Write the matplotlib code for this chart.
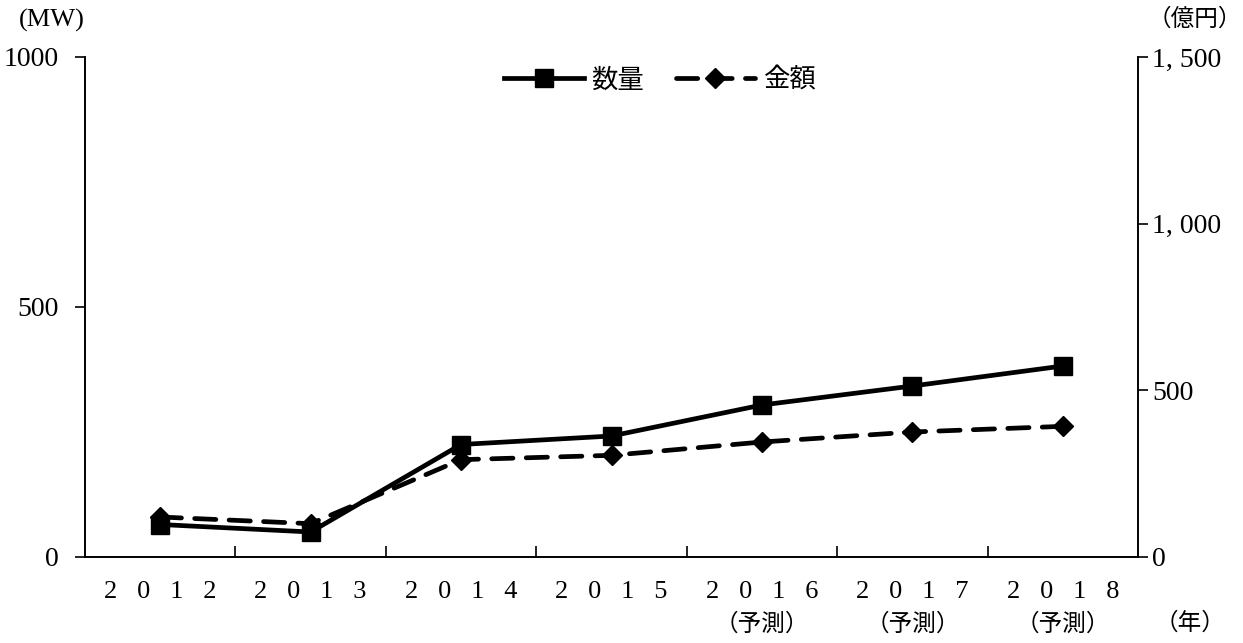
import numpy as np
import matplotlib.pyplot as plt
from matplotlib.ticker import FixedLocator

plt.rcParams['font.family'] = ['Liberation Serif', 'Noto Sans CJK JP']

# データ
years = ['2012', '2013', '2014', '2015', '2016', '2017', '2018']
forecast = [False, False, False, False, True, True, True]
quantity_mw = [65, 50, 225, 242, 304, 342, 382]       # 数量 (MW)
amount_oku = [120, 100, 292, 305, 345, 375, 392]      # 金額 (億円)

x = np.arange(len(years))

fig = plt.figure(figsize=(12.43, 6.43), dpi=100)
ax = fig.add_axes([85 / 1243, 1 - 557 / 643, (1138 - 85) / 1243, 500 / 643])
ax2 = ax.twinx()

l1, = ax.plot(x, quantity_mw, color='black', lw=3.4, marker='s', ms=13,
              label='数量', solid_joinstyle='miter')
l2, = ax2.plot(x, amount_oku, color='black', lw=3.4, ls=(0, (4.5, 2.8)), marker='D',
               ms=10, label='金額', dash_capstyle='round')

ax.set_xlim(-0.5, len(years) - 0.5)
ax.set_ylim(0, 1000)
ax2.set_ylim(0, 1500)

ax.set_yticks([0, 500, 1000])
ax.set_yticklabels(['0', '500', '1000'])
ax2.set_yticks([0, 500, 1000, 1500])
ax2.set_yticklabels(['0', '500', '1, 000', '1, 500'])

ax.tick_params(axis='y', direction='out', length=7, width=1.2, labelsize=20, pad=12)
ax2.tick_params(axis='y', direction='out', length=7, width=1.2, labelsize=20, pad=3)

# カテゴリ境界の目盛り
ax.set_xticks([])
ax.xaxis.set_minor_locator(FixedLocator(x[:-1] + 0.5))
ax.tick_params(axis='x', which='minor', direction='in', length=8, width=1.2)

for sp in ['left', 'right', 'bottom', 'top']:
    ax.spines[sp].set_linewidth(1.2)
    ax2.spines[sp].set_linewidth(1.2)
ax.spines['top'].set_visible(False)
ax2.spines['top'].set_visible(False)

for xi, yr, fc in zip(x, years, forecast):
    ax.text(xi, -0.07, '   '.join(yr), transform=ax.get_xaxis_transform(),
            ha='center', va='center', fontsize=19)
    if fc:
        ax.text(xi, -0.135, '（予測）', transform=ax.get_xaxis_transform(),
                ha='center', va='center', fontsize=17)

fig.text(52 / 1243, 1 - 20 / 643, '(MW)', ha='center', va='center', fontsize=19)
fig.text(1195 / 1243, 1 - 20 / 643, '（億円）', ha='center', va='center', fontsize=17)
fig.text(1190 / 1243, 1 - 623 / 643, '（年）', ha='center', va='center', fontsize=17)

fig.legend(handles=[l1, l2], loc='center', bbox_to_anchor=(660 / 1243, 1 - 80 / 643),
           ncol=2, frameon=False, fontsize=19, handlelength=3.0, handletextpad=0.3,
           columnspacing=1.2)

fig.savefig('out.png', dpi=100)
